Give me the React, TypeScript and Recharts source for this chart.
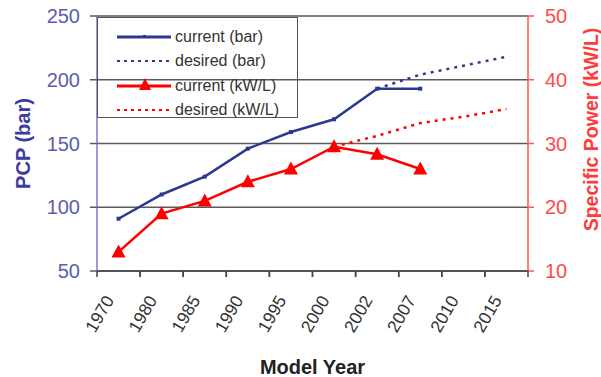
import { ComposedChart, CartesianGrid, XAxis, YAxis, Line } from "recharts";

const years = ["1970", "1980", "1985", "1990", "1995", "2000", "2002", "2007", "2010", "2015"];
const pcpCurrent = [91, 110, 124, 146, 159, 169, 193, 193, null, null];
const pcpDesired = [null, null, null, null, null, null, 193, 204, 211, 218];
const powerCurrent = [13, 19, 21, 24, 26, 29.5, 28.3, 26, null, null];
const powerDesired = [null, null, null, null, null, 29.5, 31.2, 33.2, 34.2, 35.4];
const pcpTicks = [50, 100, 150, 200, 250];
const powerTicks = [10, 20, 30, 40, 50];

const legendItems = [
  { label: "current (bar)", kind: "barCurrent" },
  { label: "desired (bar)", kind: "barDesired" },
  { label: "current (kW/L)", kind: "powerCurrent" },
  { label: "desired (kW/L)", kind: "powerDesired" },
];

const rows = years.map((year, i) => ({
  year,
  pcpCurrent: pcpCurrent[i],
  pcpDesired: pcpDesired[i],
  powerCurrent: powerCurrent[i],
  powerDesired: powerDesired[i],
}));

const FONT = '"Liberation Sans", Arial, sans-serif';
const NAVY = "#2b3990";
const RED = "#ff0000";
const GRID = "#5a5a5a";

const WIDTH = 601;
const HEIGHT = 377;
const LEFT_W = 97;
const RIGHT_W = 73;
const TOP = 16;
const X_H = 106;
// each year sits in the middle of its own slot, ticks mark the slot edges
const BAND = (WIDTH - LEFT_W - RIGHT_W) / years.length;

function SquareDot({ cx, cy, value }: any) {
  if (value == null || cx == null) return null;
  return <rect x={cx - 2} y={cy - 2} width={4} height={4} fill={NAVY} />;
}

function TriangleDot({ cx, cy, value }: any) {
  if (value == null || cx == null) return null;
  return (
    <path
      d={`M${cx},${cy - 7.5} L${cx + 7},${cy + 5.5} L${cx - 7},${cy + 5.5} Z`}
      fill={RED}
    />
  );
}

function YearTick({ x, y, payload }: any) {
  const tx = x - 4;
  const ty = y + 29;
  return (
    <g>
      <line x1={x - BAND / 2} x2={x - BAND / 2} y1={y} y2={y + 6} stroke="#444" strokeWidth={1.5} />
      <line x1={x + BAND / 2} x2={x + BAND / 2} y1={y} y2={y + 6} stroke="#444" strokeWidth={1.5} />
      <text
        x={tx}
        y={ty}
        transform={`rotate(-60, ${tx}, ${ty})`}
        textAnchor="end"
        fontFamily={FONT}
        fontSize={17.5}
        fill="#333"
      >
        {payload.value}
      </text>
    </g>
  );
}

function LegendSwatch({ kind }: { kind: string }) {
  const isBar = kind.startsWith("bar");
  const color = isBar ? NAVY : RED;
  const dashed = kind.endsWith("Desired");
  return (
    <svg width={56} height={16} style={{ display: "block", flex: "none" }}>
      <line
        x1={1}
        x2={55}
        y1={8}
        y2={8}
        stroke={color}
        strokeWidth={dashed ? 2 : 3}
        strokeDasharray={dashed ? "3 4" : undefined}
      />
      {kind === "barCurrent" && <rect x={27} y={6} width={3} height={3} fill={NAVY} />}
      {kind === "powerCurrent" && <path d="M29,0 L35,12 L23,12 Z" fill={RED} />}
    </svg>
  );
}

function ChartLegend() {
  return (
    <div
      style={{
        position: "absolute",
        left: LEFT_W,
        top: TOP + 1,
        width: 201,
        height: 101,
        border: "1.5px solid #555",
        boxSizing: "border-box",
        paddingTop: 7,
        fontFamily: FONT,
        fontSize: 16,
        color: "#333",
      }}
    >
      {legendItems.map((item) => (
        <div
          key={item.label}
          style={{ display: "flex", alignItems: "center", height: 24.3, paddingLeft: 18 }}
        >
          <LegendSwatch kind={item.kind} />
          <span style={{ marginLeft: 3, whiteSpace: "nowrap" }}>{item.label}</span>
        </div>
      ))}
    </div>
  );
}

export default function App() {
  return (
    <div style={{ position: "absolute", left: 0, top: 0, width: WIDTH, height: HEIGHT, background: "#fff" }}>
      <ComposedChart
        width={WIDTH}
        height={HEIGHT}
        data={rows}
        margin={{ top: TOP, right: 0, bottom: 0, left: 0 }}
      >
        <CartesianGrid yAxisId="pcp" vertical={false} stroke={GRID} strokeWidth={1.5} />
        <XAxis
          dataKey="year"
          height={X_H}
          interval={0}
          padding={{ left: BAND / 2, right: BAND / 2 }}
          tickSize={0}
          tickMargin={0}
          tickLine={false}
          axisLine={{ stroke: "#444", strokeWidth: 1.5 }}
          tick={<YearTick />}
          label={{
            content: ({ viewBox }: any) => (
              <text
                x={viewBox.x + viewBox.width / 2}
                y={viewBox.y + viewBox.height - 3}
                textAnchor="middle"
                fontFamily={FONT}
                fontSize={20}
                fontWeight="bold"
                fill="#222"
              >
                Model Year
              </text>
            ),
          }}
        />
        <YAxis
          yAxisId="pcp"
          orientation="left"
          width={LEFT_W}
          domain={[50, 250]}
          ticks={pcpTicks}
          interval={0}
          tickSize={7}
          tickMargin={10}
          axisLine={{ stroke: "#7a7acc", strokeWidth: 1.5 }}
          tickLine={{ stroke: GRID, strokeWidth: 1.5 }}
          tick={{ fill: "#5c5cae", fontFamily: FONT, fontSize: 20 }}
          label={{
            content: ({ viewBox }: any) => {
              const cx = 23;
              const cy = viewBox.y + viewBox.height / 2;
              return (
                <text
                  x={cx}
                  y={cy}
                  transform={`rotate(-90, ${cx}, ${cy})`}
                  textAnchor="middle"
                  dominantBaseline="central"
                  fontFamily={FONT}
                  fontSize={20}
                  fontWeight="bold"
                  fill="#3c3ca0"
                >
                  PCP (bar)
                </text>
              );
            },
          }}
        />
        <YAxis
          yAxisId="power"
          orientation="right"
          width={RIGHT_W}
          domain={[10, 50]}
          ticks={powerTicks}
          interval={0}
          tickSize={6}
          tickMargin={11}
          axisLine={{ stroke: "#ff5555", strokeWidth: 1.5 }}
          tickLine={{ stroke: "#ff5555", strokeWidth: 1.5 }}
          tick={{ fill: "#ff4a4a", fontFamily: FONT, fontSize: 20 }}
          label={{
            content: ({ viewBox }: any) => {
              const cx = viewBox.x + 63;
              const cy = viewBox.y + viewBox.height / 2 - 14;
              return (
                <text
                  x={cx}
                  y={cy}
                  transform={`rotate(-90, ${cx}, ${cy})`}
                  textAnchor="middle"
                  dominantBaseline="central"
                  fontFamily={FONT}
                  fontSize={19.5}
                  fontWeight="bold"
                  fill="#ff3b3b"
                >
                  Specific Power (kW/L)
                </text>
              );
            },
          }}
        />
        <Line
          yAxisId="pcp"
          dataKey="pcpDesired"
          stroke={NAVY}
          strokeWidth={2.5}
          strokeDasharray="3 5"
          dot={false}
          activeDot={false}
          isAnimationActive={false}
        />
        <Line
          yAxisId="power"
          dataKey="powerDesired"
          stroke={RED}
          strokeWidth={2.5}
          strokeDasharray="3 5"
          dot={false}
          activeDot={false}
          isAnimationActive={false}
        />
        <Line
          yAxisId="pcp"
          dataKey="pcpCurrent"
          stroke={NAVY}
          strokeWidth={2.5}
          dot={<SquareDot />}
          activeDot={false}
          isAnimationActive={false}
        />
        <Line
          yAxisId="power"
          dataKey="powerCurrent"
          stroke={RED}
          strokeWidth={2.5}
          dot={<TriangleDot />}
          activeDot={false}
          isAnimationActive={false}
        />
      </ComposedChart>
      <ChartLegend />
    </div>
  );
}
